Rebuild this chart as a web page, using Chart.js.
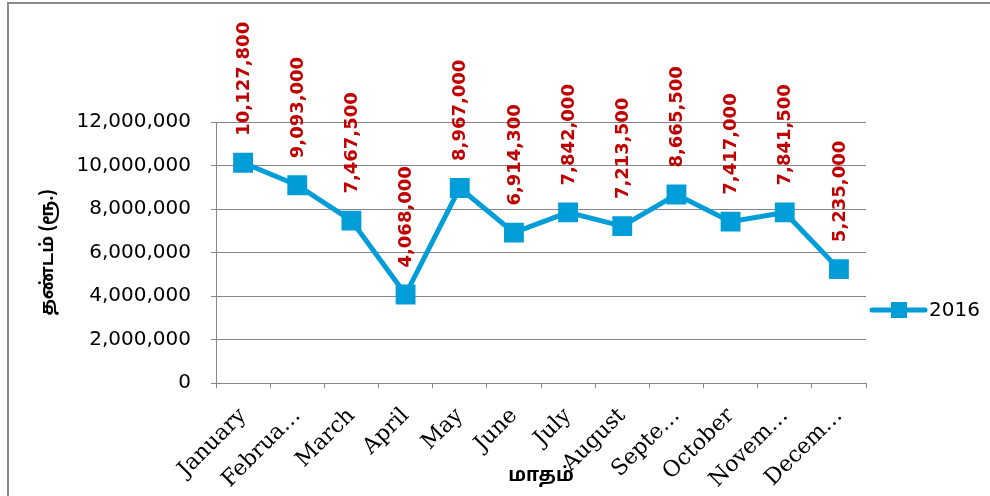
<!DOCTYPE html>
<html>
<head>
<meta charset="utf-8">
<script src="https://cdn.jsdelivr.net/npm/chart.js@4"></script>
<style>
  html, body { margin: 0; padding: 0; background: #fff; }
  #wrap { width: 990px; height: 496px; position: relative; }
</style>
</head>
<body>
<div id="wrap"><canvas id="revenueChart"></canvas></div>
<script>
// Monthly amounts (Rs.) for 2016
const months = ['January', 'Februa\u2026', 'March', 'April', 'May', 'June', 'July', 'August', 'Septe\u2026', 'October', 'Novem\u2026', 'Decem\u2026'];
const amounts2016 = [10127800, 9093000, 7467500, 4068000, 8967000, 6914300, 7842000, 7213500, 8665500, 7417000, 7841500, 5235000];
const seriesName = '2016';
const yTicks = [0, 2000000, 4000000, 6000000, 8000000, 10000000, 12000000];

const lineColor = '#009DD9';
const fmt = v => v.toLocaleString('en-US');

// red rotated value labels above each point
const valueLabels = {
    id: 'valueLabels',
    afterDatasetsDraw(chart) {
        const ctx = chart.ctx;
        const meta = chart.getDatasetMeta(0);
        const data = chart.data.datasets[0].data;
        ctx.save();
        ctx.fillStyle = '#C00000';
        ctx.font = 'bold 18px "DejaVu Sans"';
        ctx.textAlign = 'left';
        ctx.textBaseline = 'middle';
        meta.data.forEach((pt, i) => {
            ctx.save();
            ctx.translate(pt.x + 1, pt.y - 27);
            ctx.rotate(-Math.PI / 2);
            ctx.fillText(fmt(data[i]), 0, 0);
            ctx.restore();
        });
        ctx.restore();
    }
};

// legend on the right: line with square marker
const sideLegend = {
    id: 'sideLegend',
    afterDraw(chart) {
        const ctx = chart.ctx;
        const ds = chart.data.datasets[0];
        const x0 = 872, y = 310;
        ctx.save();
        ctx.strokeStyle = ds.borderColor;
        ctx.lineWidth = 5;
        ctx.lineCap = 'round';
        ctx.beginPath();
        ctx.moveTo(x0, y);
        ctx.lineTo(x0 + 53, y);
        ctx.stroke();
        ctx.fillStyle = ds.borderColor;
        ctx.fillRect(x0 + 19, y - 8, 16, 16);
        ctx.fillStyle = '#000';
        ctx.font = '20px "DejaVu Sans"';
        ctx.textBaseline = 'middle';
        ctx.fillText(ds.label, x0 + 57, y + 1);
        ctx.restore();
    }
};

// thin frame on the left and top edges
const frame = {
    id: 'frame',
    beforeDraw(chart) {
        const ctx = chart.ctx;
        ctx.save();
        ctx.strokeStyle = '#8a8a8a';
        ctx.lineWidth = 2;
        ctx.beginPath();
        ctx.moveTo(8, 496);
        ctx.lineTo(8, 3);
        ctx.lineTo(990, 3);
        ctx.stroke();
        ctx.restore();
    }
};

const ctx = document.getElementById('revenueChart').getContext('2d');
new Chart(ctx, {
    type: 'line',
    data: {
        labels: months,
        datasets: [{
            label: seriesName,
            data: amounts2016,
            borderColor: lineColor,
            backgroundColor: lineColor,
            borderWidth: 5,
            pointStyle: 'rect',
            pointRadius: 10.5,
            pointHoverRadius: 10.5,
            tension: 0
        }]
    },
    options: {
        responsive: true,
        maintainAspectRatio: false,
        animation: false,
        events: [],
        layout: {
            padding: { left: 30, top: 122, right: 124, bottom: 4 }
        },
        plugins: {
            legend: { display: false },
            tooltip: { enabled: false }
        },
        scales: {
            x: {
                offset: true,
                afterFit(scale) { scale.height = 109; },
                grid: {
                    offset: true,
                    drawOnChartArea: false,
                    drawTicks: true,
                    tickLength: 5,
                    color: '#868686'
                },
                border: { color: '#868686', width: 1 },
                ticks: {
                    minRotation: 45,
                    maxRotation: 45,
                    autoSkip: false,
                    padding: 15,
                    color: '#000',
                    font: { family: '"DejaVu Serif"', size: 22 }
                },
                title: {
                    display: true,
                    text: 'மாதம்',
                    color: '#000',
                    font: { family: '"Noto Sans Tamil", "Lohit Tamil", "Noto Sans", sans-serif', size: 19, weight: 'bold' },
                    padding: { top: 0, bottom: 3 }
                }
            },
            y: {
                min: 0,
                max: 12000000,
                afterFit(scale) { scale.width = 186; },
                afterBuildTicks(scale) { scale.ticks = yTicks.map(v => ({ value: v })); },
                grid: {
                    color: '#868686',
                    tickLength: 5
                },
                border: { color: '#868686', width: 1 },
                ticks: {
                    padding: 20,
                    color: '#000',
                    font: { family: '"DejaVu Sans"', size: 20 },
                    callback: v => fmt(v)
                },
                title: {
                    display: true,
                    text: 'தண்டம் (ரூ.)',
                    color: '#000',
                    font: { family: '"Noto Sans Tamil", "Lohit Tamil", "Noto Sans", sans-serif', size: 18, weight: 'bold' },
                    padding: 9
                }
            }
        }
    },
    plugins: [frame, valueLabels, sideLegend]
});
</script>
</body>
</html>
